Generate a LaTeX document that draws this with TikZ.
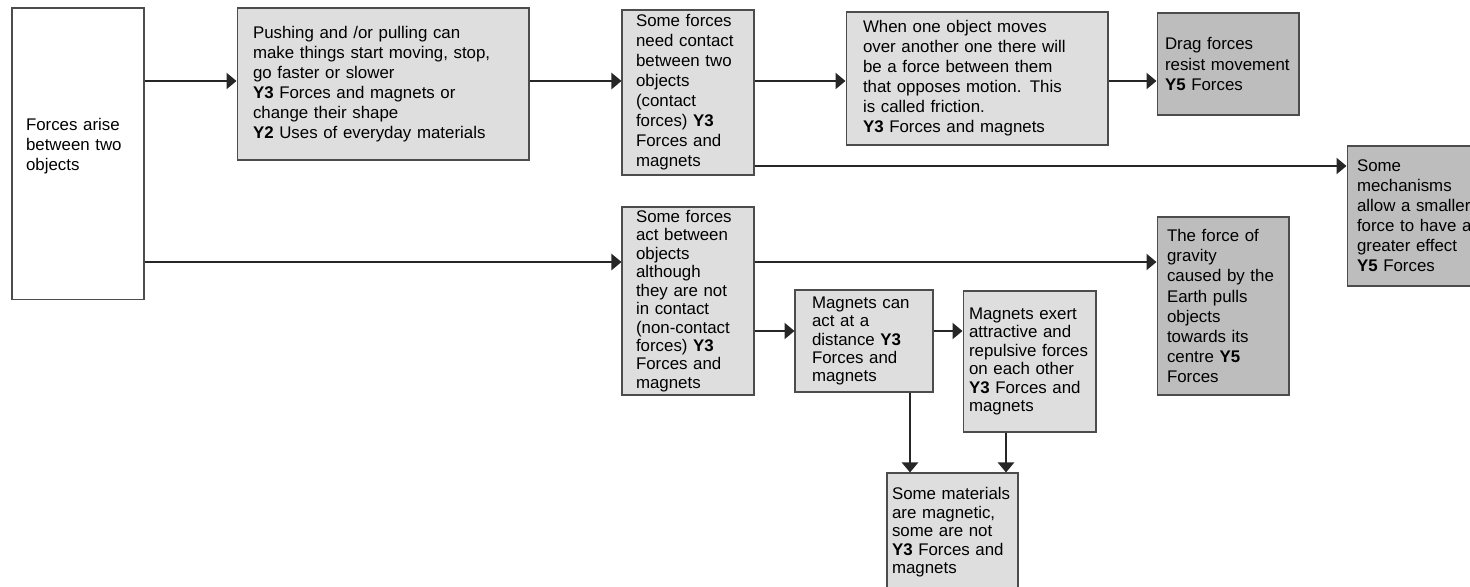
\documentclass[tikz,border=0pt]{standalone}
\usepackage{fontspec}
\setmainfont{Liberation Sans}
\usetikzlibrary{arrows.meta}

\begin{document}
\begin{tikzpicture}[x=0.02cm, y=-0.02cm,
        box/.style={draw=black!70, line width=0.6pt, align=left, inner ysep=0pt,
            font=\fontsize{9.6}{11.4}\selectfont},
        whitebox/.style={box, fill=white},
        lightbox/.style={box, fill=black!13},
        darkbox/.style={box, fill=black!26},
        tight/.style={font=\fontsize{9.6}{10.5}\selectfont},
        arr/.style={line width=1.4pt, black!85, -{Triangle[length=0.2cm, width=0.32cm]}}]

    \useasboundingbox (0,0) rectangle (1470,587);
    \clip (0,0) rectangle (1470,587);

    % Start
    \node[whitebox, text width=2.08cm, inner xsep=0.28cm, minimum height=5.84cm] (arise) at (78,154)
        {Forces arise\\between two\\objects\\\mbox{}};

    % Top row
    \node[lightbox, text width=5.2cm, inner xsep=0.32cm, minimum height=3.04cm] (push) at (383,84)
        {Pushing and /or pulling can\\make things start moving, stop,\\go faster or slower\\\textbf{Y3} Forces and magnets or\\change their shape\\\textbf{Y2} Uses of everyday materials};
    \node[lightbox, text width=2.08cm, inner xsep=0.28cm, minimum height=3.3cm] (contact) at (688,92.5)
        {Some forces\\need contact\\between two\\objects\\(contact\\forces) \textbf{Y3}\\Forces and\\magnets};
    \node[lightbox, text width=4.56cm, inner xsep=0.34cm, minimum height=2.66cm] (friction) at (977,78.5)
        {When one object moves\\over another one there will\\be a force between them\\that opposes motion. This\\is called friction.\\\textbf{Y3} Forces and magnets};
    \node[darkbox, text width=2.52cm, inner xsep=0.16cm, minimum height=2.04cm] (drag) at (1228,64)
        {Drag forces\\resist movement\\\textbf{Y5} Forces};
    \node[darkbox, text width=2.48cm, inner xsep=0.2cm, minimum height=2.8cm] (mech) at (1419,216)
        {Some\\mechanisms\\allow a smaller\\force to have a\\greater effect\\\textbf{Y5} Forces};

    % Bottom row
    \node[lightbox, tight, text width=2.08cm, inner xsep=0.28cm, minimum height=3.76cm] (noncontact) at (688,301)
        {Some forces\\act between\\objects\\although\\they are not\\in contact\\(non-contact\\forces) \textbf{Y3}\\Forces and\\magnets};
    \node[lightbox, tight, text width=2.08cm, inner xsep=0.34cm, minimum height=2.04cm] (distance) at (864,341)
        {Magnets can\\act at a\\distance \textbf{Y3}\\Forces and\\magnets};
    \node[lightbox, tight, text width=2.42cm, inner xsep=0.12cm, minimum height=2.82cm] (exert) at (1029.5,361.5)
        {Magnets exert\\attractive and\\repulsive forces\\on each other\\\textbf{Y3} Forces and\\magnets};
    \node[lightbox, tight, text width=2.42cm, inner xsep=0.1cm, minimum height=2.38cm] (materials) at (952.5,532.5)
        {Some materials\\are magnetic,\\some are not\\\textbf{Y3} Forces and\\magnets};
    \node[darkbox, text width=2.24cm, inner xsep=0.2cm, minimum height=3.56cm] (gravity) at (1223,306)
        {The force of\\gravity\\caused by the\\Earth pulls\\objects\\towards its\\centre \textbf{Y5}\\Forces};

    % Arrow rows and columns
    \coordinate (row1) at (0,81);
    \coordinate (row2) at (0,166);
    \coordinate (row3) at (0,262);
    \coordinate (row4) at (0,331);
    \coordinate (col1) at (910,0);
    \coordinate (col2) at (1006,0);

    % Arrows
    \draw[arr] (arise.east |- row1) -- (push.west |- row1);
    \draw[arr] (push.east |- row1) -- (contact.west |- row1);
    \draw[arr] (contact.east |- row1) -- (friction.west |- row1);
    \draw[arr] (friction.east |- row1) -- (drag.west |- row1);
    \draw[arr] (contact.east |- row2) -- (mech.west |- row2);
    \draw[arr] (arise.east |- row3) -- (noncontact.west |- row3);
    \draw[arr] (noncontact.east |- row3) -- (gravity.west |- row3);
    \draw[arr] (noncontact.east |- row4) -- (distance.west |- row4);
    \draw[arr] (distance.east |- row4) -- (exert.west |- row4);
    \draw[arr] (distance.south -| col1) -- (materials.north -| col1);
    \draw[arr] (exert.south -| col2) -- (materials.north -| col2);
\end{tikzpicture}
\end{document}
